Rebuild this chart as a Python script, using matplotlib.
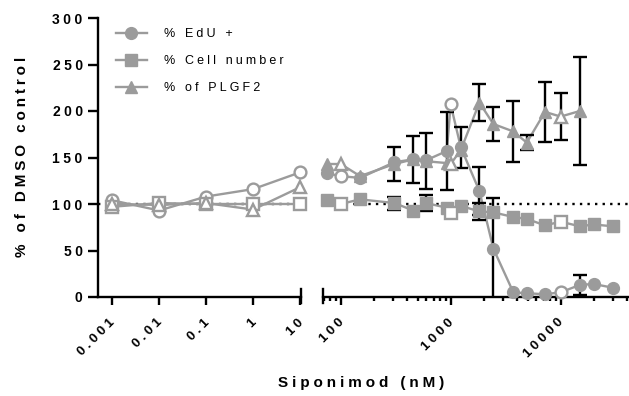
import numpy as np
import matplotlib
matplotlib.use('Agg')
import matplotlib.pyplot as plt
from matplotlib.lines import Line2D
from matplotlib.ticker import LogLocator, NullFormatter
from matplotlib.transforms import ScaledTranslation

plt.rcParams['font.family'] = ['Liberation Sans', 'DejaVu Sans']

GAP = '\u2005'


def spaced(s):
    # prism-like letter spacing
    return GAP.join(s)


# low concentrations (left part of the broken axis), all open symbols
conc_low = [0.001, 0.01, 0.1, 1, 10]
edu_low = [104, 93, 108, 116, 134]
cells_low = [97, 101, 100, 100, 100]
plgf_low = [100, 99, 101, 94, 118]

# high concentrations (right part)
conc_high = [75, 100, 150, 308, 457, 597, 923, 1000, 1236, 1825, 2445,
             3715, 4920, 7210, 10000, 14970, 19960, 29800]
open_high = [False, True, False, False, False, False, False, True, False, False, False,
             False, False, False, True, False, False, False]
edu_high = [133, 130, 128, 145, 148, 147, 157, 207, 161, 114, 52,
            5, 4, 3, 5, 13, 14, 10]
edu_err = [0, 0, 0, 0, 0, 0, 42, 0, 22, 26, 54,
           0, 0, 0, 0, 11, 0, 0]
cells_high = [104, 100, 105, 101, 93, 101, 96, 90, 98, 92, 91,
              86, 84, 77, 81, 76, 78, 76]
cells_err = [0, 0, 0, 7, 0, 9, 0, 0, 0, 9, 0,
             0, 0, 0, 0, 0, 0, 0]
plgf_high = [143, 143, 130, 143, 148, 146, 144, 143, 158, 209, 186,
             178, 166, 199, 194, 200, np.nan, np.nan]
plgf_err = [0, 0, 0, 18, 25, 30, 0, 0, 0, 20, 18,
            33, 8, 32, 25, 58, 0, 0]

series_names = ['% EdU +', '% Cell number', '% of PLGF2']
markers = ['o', 's', '^']
msizes = [8.5, 8, 8.5]

low_ticks = [0.001, 0.01, 0.1, 1, 10]
low_labels = ['0.001', '0.01', '0.1', '1', '10']
high_ticks = [100, 1000, 10000]
high_labels = ['100', '1000', '10000']
yticks = [0, 50, 100, 150, 200, 250, 300]

GRAY = '#9b9b9b'
LW = 1.7

fig = plt.figure(figsize=(6.29, 3.96), dpi=100)
ax1 = fig.add_axes([98 / 629, 99 / 396, 203 / 629, 279 / 396])
ax2 = fig.add_axes([323 / 629, 99 / 396, 305 / 629, 279 / 396])

low = [edu_low, cells_low, plgf_low]
high = [(edu_high, edu_err), (cells_high, cells_err), (plgf_high, plgf_err)]
is_open = np.array(open_high)

for i in range(3):
    m, ms = markers[i], msizes[i]
    # left part
    ax1.plot(conc_low, low[i], color=GRAY, lw=LW, zorder=2, clip_on=False)
    ax1.plot(conc_low, low[i], ls='none', marker=m, ms=ms, mfc='white', mec=GRAY,
             mew=LW, zorder=4, clip_on=False)
    # right part
    x = np.array(conc_high, dtype=float)
    y = np.array(high[i][0], dtype=float)
    e = np.array(high[i][1], dtype=float)
    ok = ~np.isnan(y)
    ax2.plot(x[ok], y[ok], color=GRAY, lw=LW, zorder=2, clip_on=False)
    has_err = e > 0
    ax2.errorbar(x[has_err], y[has_err], yerr=e[has_err], fmt='none', ecolor='black',
                 elinewidth=LW, capsize=5, capthick=LW, zorder=3)
    f = ok & ~is_open
    o = ok & is_open
    ax2.plot(x[f], y[f], ls='none', marker=m, ms=ms, mfc=GRAY, mec=GRAY,
             zorder=4, clip_on=False)
    ax2.plot(x[o], y[o], ls='none', marker=m, ms=ms, mfc='white', mec=GRAY,
             mew=LW, zorder=4, clip_on=False)

ax1.set_xscale('log')
ax2.set_xscale('log')
ax1.set_xlim(0.0005, 10.5)
ax2.set_xlim(69, 41000)

tick_kw = dict(rotation=45, ha='right', va='top', rotation_mode='anchor',
               fontweight='bold', fontsize=9.5)
ax1.set_xticks(low_ticks, [spaced(t) for t in low_labels], **tick_kw)
ax2.set_xticks(high_ticks, [spaced(t) for t in high_labels], **tick_kw)

for ax in (ax1, ax2):
    ax.set_ylim(0, 300)
    ax.axhline(100, color='black', ls=(0, (1, 2.2)), lw=LW, zorder=1)
    for s in ('top', 'right'):
        ax.spines[s].set_visible(False)
    ax.spines['bottom'].set_linewidth(LW)
    ax.spines['left'].set_linewidth(LW)
    ax.xaxis.set_minor_locator(LogLocator(base=10, subs=np.arange(2, 10)))
    ax.xaxis.set_minor_formatter(NullFormatter())
    ax.tick_params(axis='x', which='major', direction='out', length=6, width=LW, pad=8)
    ax.tick_params(axis='x', which='minor', direction='out', length=3, width=LW)
    # axis break marks
    ax.plot([1 if ax is ax1 else 0] * 2, [-0.022, 0.03], color='black', lw=LW,
            transform=ax.transAxes, clip_on=False)

shift = ScaledTranslation(-0.03, 0, fig.dpi_scale_trans)
for ax in (ax1, ax2):
    for lab in ax.get_xticklabels():
        lab.set_transform(lab.get_transform() + shift)

ax1.set_yticks(yticks, [spaced(str(t)) for t in yticks], fontweight='bold', fontsize=10)
ax1.tick_params(axis='y', direction='out', length=7, width=LW, pad=4)

ax2.spines['left'].set_visible(False)
ax2.set_yticks([])

fig.text(22 / 629, 1 - 157 / 396, spaced('% of DMSO control'), rotation=90,
         ha='center', va='center', fontsize=11, fontweight='bold')
fig.text(361 / 629, 1 - 383 / 396, spaced('Siponimod (nM)'),
         ha='center', va='center', fontsize=11, fontweight='bold')

handles = [Line2D([], [], color=GRAY, lw=LW, marker=markers[i], ms=msizes[i],
                  mfc=GRAY, mec=GRAY) for i in range(3)]
ax1.legend(handles, [spaced(n) for n in series_names], loc='upper left',
           bbox_to_anchor=(116 / 629, 1 - 28 / 396), bbox_transform=fig.transFigure,
           frameon=False, fontsize=9, borderpad=0, borderaxespad=0,
           handlelength=2.45, handletextpad=1.4, labelspacing=1.2)

fig.savefig('out.png', dpi=100)
